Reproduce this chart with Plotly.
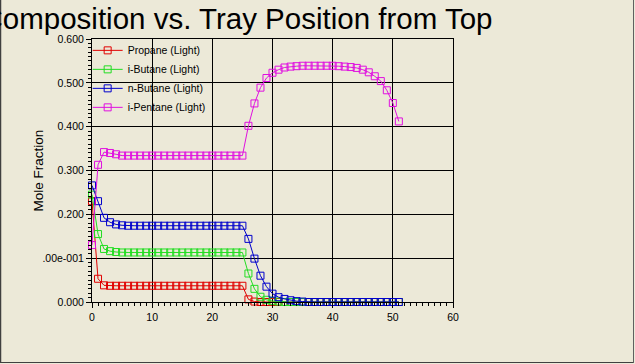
import plotly.graph_objects as go

trays = list(range(52))

propane = [0.230, 0.053, 0.038, 0.037, 0.037,
           0.037, 0.037, 0.037, 0.037, 0.037, 0.037, 0.037, 0.037, 0.037, 0.037,
           0.037, 0.037, 0.037, 0.037, 0.037, 0.037, 0.037, 0.037, 0.037, 0.037, 0.037,
           0.006, 0.001, 0.000, 0.000, 0.000, 0.000, 0.000, 0.000, 0.000, 0.000,
           0.000, 0.000, 0.000, 0.000, 0.000, 0.000, 0.000, 0.000, 0.000, 0.000,
           0.000, 0.000, 0.000, 0.000, 0.000, 0.000]

ibutane = [0.245, 0.155, 0.121, 0.116, 0.114,
           0.113, 0.113, 0.113, 0.113, 0.113, 0.113, 0.113, 0.113, 0.113, 0.113,
           0.113, 0.113, 0.113, 0.113, 0.113, 0.113, 0.113, 0.113, 0.113, 0.113, 0.113,
           0.065, 0.030, 0.012, 0.005, 0.002, 0.001, 0.000, 0.000, 0.000, 0.000,
           0.000, 0.000, 0.000, 0.000, 0.000, 0.000, 0.000, 0.000, 0.000, 0.000,
           0.000, 0.000, 0.000, 0.000, 0.000, 0.000]

nbutane = [0.266, 0.230, 0.192, 0.182, 0.177,
           0.175, 0.174, 0.174, 0.174, 0.174, 0.174, 0.174, 0.174, 0.174, 0.174,
           0.174, 0.174, 0.174, 0.174, 0.174, 0.174, 0.174, 0.174, 0.174, 0.174, 0.174,
           0.144, 0.099, 0.060, 0.035, 0.019, 0.011, 0.007, 0.004, 0.002, 0.001,
           0.000, 0.000, 0.000, 0.000, 0.000, 0.000, 0.000, 0.000, 0.000, 0.000,
           0.000, 0.000, 0.000, 0.000, 0.000, 0.000]

ipentane = [0.130, 0.313, 0.342, 0.340, 0.337,
            0.334, 0.334, 0.334, 0.334, 0.334, 0.334, 0.334, 0.334, 0.334, 0.334,
            0.334, 0.334, 0.334, 0.334, 0.334, 0.334, 0.334, 0.334, 0.334, 0.334, 0.334,
            0.402, 0.453, 0.489, 0.511, 0.523, 0.530, 0.535, 0.537, 0.538, 0.539,
            0.539, 0.539, 0.539, 0.539, 0.539, 0.538, 0.537, 0.536, 0.534, 0.530,
            0.524, 0.515, 0.504, 0.483, 0.454, 0.412]

series_names = ["Propane (Light)", "i-Butane (Light)", "n-Butane (Light)", "i-Pentane (Light)"]
series_values = [propane, ibutane, nbutane, ipentane]
series_colors = ["#e00000", "#22dd22", "#0000cc", "#e010e0"]

y_tickvals = [0.0, 0.1, 0.2, 0.3, 0.4, 0.5, 0.6]
y_ticktext = ["0.000", ".00e-001", "0.200", "0.300", "0.400", "0.500", "0.600"]
x_tickvals = [0, 10, 20, 30, 40, 50, 60]

BG = "#ECE9D8"

fig = go.Figure()
for name, vals, col in zip(series_names, series_values, series_colors):
    fig.add_trace(go.Scatter(
        x=trays, y=vals, name=name, mode="lines+markers",
        line=dict(color=col, width=1),
        marker=dict(symbol="square-open", size=7, color=col, line=dict(width=1, color=col)),
        cliponaxis=False,
    ))

axis_font = dict(family="Liberation Sans, Arial, sans-serif", size=10.5, color="black")

fig.update_layout(
    width=635, height=364,
    margin=dict(l=92, r=182, t=39, b=62, pad=0),
    paper_bgcolor=BG, plot_bgcolor=BG,
    showlegend=True,
    legend=dict(x=-0.012, y=1.012, xanchor="left", yanchor="top",
                bgcolor="rgba(0,0,0,0)", borderwidth=0,
                font=dict(family="Liberation Sans, Arial, sans-serif", size=10.5, color="black"),
                tracegroupgap=0),
    title=dict(text="Composition vs. Tray Position from Top",
               xref="container", yref="container",
               x=492.5/635, xanchor="right", y=1-19/364, yanchor="middle",
               font=dict(family="Liberation Sans, Arial, sans-serif", size=29.5, color="black")),
    xaxis=dict(range=[0, 60], tickvals=x_tickvals, ticks="outside", ticklen=5,
               tickcolor="black", showline=True, linecolor="black", linewidth=1, mirror=True,
               showgrid=True, gridcolor="black", gridwidth=1, zeroline=False,
               tickfont=axis_font,
               minor=dict(dtick=1, ticks="outside", ticklen=3, tickcolor="black", showgrid=False)),
    yaxis=dict(range=[0, 0.6], tickvals=y_tickvals, ticktext=y_ticktext, ticks="outside",
               ticklen=5, tickcolor="black", showline=True, linecolor="black", linewidth=1,
               mirror=True, showgrid=True, gridcolor="black", gridwidth=1, zeroline=False,
               tickfont=axis_font,
               minor=dict(dtick=0.01, ticks="outside", ticklen=3, tickcolor="black", showgrid=False)),
    annotations=[dict(text="Mole Fraction", textangle=-90, xref="paper", yref="paper",
                      x=(38-92)/361, y=0.5, xanchor="center", yanchor="middle", showarrow=False,
                      font=dict(family="Liberation Sans, Arial, sans-serif", size=13.5, color="black"))],
    shapes=[
        dict(type="line", xref="paper", yref="paper", x0=(0.5-92)/361, x1=(0.5-92)/361,
             y0=302/263, y1=(302-363)/263, line=dict(color="#404040", width=1.5)),
        dict(type="line", xref="paper", yref="paper", x0=(0.5-92)/361, x1=(633.5-92)/361,
             y0=(302-362.5)/263, y1=(302-362.5)/263, line=dict(color="#404040", width=1)),
        dict(type="line", xref="paper", yref="paper", x0=(633.5-92)/361, x1=(633.5-92)/361,
             y0=302/263, y1=(302-363)/263, line=dict(color="#606060", width=1)),
    ],
)

fig.write_html("out.html")
